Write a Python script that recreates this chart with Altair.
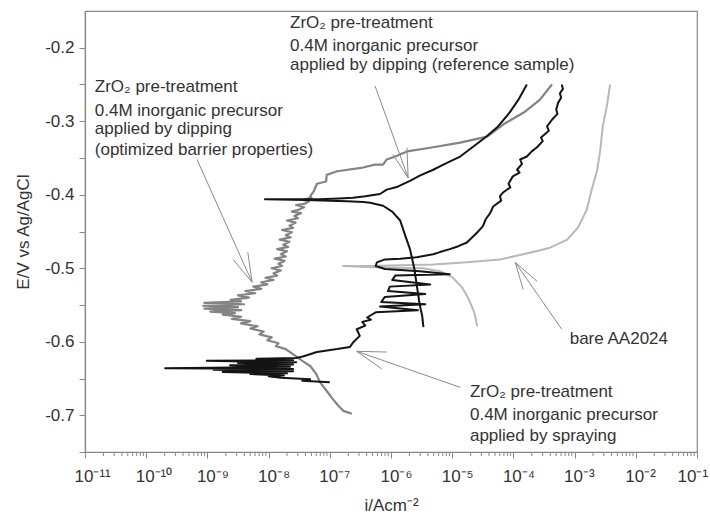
import altair as alt
import pandas as pd

# ---------------- data: (log10 of i in A/cm^2, E in V vs Ag/AgCl) ----------------
# ZrO2, dipping, optimized barrier properties (grey)
opt_points = [
    (-3.37, -0.250), (-3.57, -0.271), (-3.81, -0.287), (-4.14, -0.303), (-4.43, -0.321), (-4.87, -0.329),
    (-5.36, -0.336), (-5.74, -0.341), (-5.93, -0.348), (-6.07, -0.352), (-6.13, -0.359), (-6.26, -0.359),
    (-6.46, -0.363), (-6.88, -0.368), (-7.05, -0.373), (-7.06, -0.382), (-7.21, -0.385), (-7.26, -0.395),
    (-7.32, -0.402), (-7.30, -0.404), (-7.44, -0.407), (-7.34, -0.409), (-7.40, -0.412), (-7.55, -0.414),
    (-7.42, -0.417), (-7.50, -0.420), (-7.62, -0.423), (-7.47, -0.425), (-7.58, -0.429), (-7.52, -0.432),
    (-7.70, -0.435), (-7.56, -0.438), (-7.66, -0.442), (-7.60, -0.445), (-7.78, -0.448), (-7.62, -0.451),
    (-7.72, -0.455), (-7.64, -0.458), (-7.82, -0.461), (-7.66, -0.464), (-7.76, -0.468), (-7.68, -0.471),
    (-7.86, -0.474), (-7.70, -0.477), (-7.80, -0.481), (-7.72, -0.484), (-7.90, -0.487), (-7.74, -0.490),
    (-7.84, -0.494), (-7.78, -0.497), (-7.95, -0.500), (-7.80, -0.503), (-7.92, -0.507), (-7.86, -0.510),
    (-8.05, -0.513), (-7.92, -0.516), (-8.12, -0.519), (-8.02, -0.522), (-8.25, -0.525), (-8.12, -0.528),
    (-8.38, -0.531), (-8.22, -0.534), (-8.50, -0.537), (-8.32, -0.540), (-8.62, -0.543), (-8.45, -0.545),
    (-9.05, -0.547), (-8.40, -0.549), (-9.07, -0.551), (-8.50, -0.553), (-9.05, -0.555), (-8.45, -0.557),
    (-8.95, -0.559), (-8.55, -0.561), (-8.75, -0.563), (-8.45, -0.566), (-8.60, -0.569), (-8.30, -0.572),
    (-8.45, -0.575), (-8.18, -0.579), (-8.30, -0.582), (-8.08, -0.586), (-8.15, -0.590), (-7.95, -0.594),
    (-8.02, -0.598), (-7.84, -0.602), (-7.88, -0.606), (-7.72, -0.610), (-7.65, -0.614), (-7.55, -0.620),
    (-7.45, -0.626), (-7.32, -0.633), (-7.22, -0.644), (-7.16, -0.655), (-7.05, -0.667), (-6.95, -0.678),
    (-6.86, -0.687), (-6.78, -0.694), (-6.64, -0.698),
]

# ZrO2, dipping, reference sample (black, smooth)
ref_points = [
    (-3.78, -0.250), (-3.92, -0.271), (-4.06, -0.288), (-4.25, -0.307), (-4.46, -0.322), (-4.68, -0.336),
    (-4.87, -0.348), (-5.12, -0.358), (-5.31, -0.366), (-5.53, -0.374), (-5.69, -0.381), (-5.89, -0.389),
    (-6.07, -0.393), (-6.18, -0.399), (-6.42, -0.402), (-6.62, -0.404), (-6.85, -0.405), (-7.16, -0.406),
    (-7.50, -0.406), (-8.06, -0.406), (-7.40, -0.407), (-7.00, -0.408), (-6.72, -0.409), (-6.45, -0.410),
    (-6.34, -0.411), (-6.13, -0.415), (-5.98, -0.423), (-5.85, -0.435), (-5.77, -0.455), (-5.69, -0.474),
    (-5.62, -0.500), (-5.57, -0.528), (-5.53, -0.550), (-5.49, -0.565), (-5.47, -0.580),
]

# ZrO2, spraying (black, noisy)
spr_points = [
    (-3.21, -0.250), (-3.19, -0.256), (-3.24, -0.262), (-3.22, -0.268), (-3.27, -0.275), (-3.30, -0.284),
    (-3.28, -0.290), (-3.37, -0.298), (-3.45, -0.307), (-3.42, -0.313), (-3.55, -0.322), (-3.52, -0.327),
    (-3.61, -0.335), (-3.70, -0.341), (-3.78, -0.348), (-3.89, -0.352), (-3.86, -0.358), (-3.94, -0.366),
    (-3.90, -0.370), (-4.01, -0.375), (-4.08, -0.385), (-4.05, -0.390), (-4.17, -0.397), (-4.22, -0.402),
    (-4.20, -0.408), (-4.33, -0.416), (-4.38, -0.425), (-4.45, -0.433), (-4.50, -0.443), (-4.60, -0.452),
    (-4.76, -0.465), (-4.90, -0.470), (-5.04, -0.474), (-5.20, -0.478), (-5.31, -0.481), (-5.58, -0.485),
    (-5.85, -0.487), (-6.10, -0.488), (-6.23, -0.492), (-6.25, -0.497), (-6.10, -0.501), (-5.53, -0.504),
    (-5.04, -0.508), (-5.93, -0.510), (-5.98, -0.516), (-5.36, -0.522), (-6.02, -0.525), (-6.05, -0.531),
    (-5.44, -0.535), (-6.10, -0.539), (-6.16, -0.546), (-5.44, -0.549), (-6.18, -0.552), (-5.56, -0.557),
    (-6.25, -0.560), (-6.39, -0.567), (-6.33, -0.570), (-6.47, -0.573), (-6.42, -0.578), (-6.56, -0.583),
    (-6.51, -0.592), (-6.62, -0.601), (-6.67, -0.607), (-6.88, -0.610), (-7.21, -0.614), (-7.44, -0.620),
    (-7.55, -0.622), (-8.20, -0.623), (-7.60, -0.625), (-9.01, -0.626), (-7.55, -0.628), (-8.50, -0.629),
    (-7.60, -0.631), (-8.63, -0.632), (-7.65, -0.634), (-9.69, -0.636), (-7.60, -0.637), (-8.90, -0.638),
    (-7.60, -0.640), (-8.75, -0.641), (-7.70, -0.643), (-8.30, -0.644), (-7.75, -0.646), (-8.00, -0.647),
    (-7.80, -0.649), (-7.32, -0.651), (-7.45, -0.653), (-7.00, -0.655),
]

# bare AA2024 (light grey)
bare_points = [
    (-2.42, -0.250), (-2.47, -0.278), (-2.54, -0.307), (-2.58, -0.339), (-2.63, -0.366), (-2.72, -0.393),
    (-2.80, -0.420), (-2.94, -0.444), (-3.12, -0.461), (-3.40, -0.472), (-3.68, -0.478), (-4.22, -0.488),
    (-4.76, -0.492), (-5.31, -0.495), (-5.85, -0.496), (-6.34, -0.497), (-6.78, -0.497), (-6.18, -0.499),
    (-5.48, -0.500), (-5.20, -0.504), (-5.00, -0.512), (-4.84, -0.526), (-4.73, -0.542), (-4.64, -0.560),
    (-4.59, -0.579),
]

# annotation texts (left-aligned anchor in data units)
note_text = ["ZrO\u2082 pre-treatment", "0.4M inorganic precursor", "applied by dipping (reference sample)",
             "ZrO\u2082 pre-treatment", "0.4M inorganic precursor", "applied by dipping",
             "(optimized barrier properties)",
             "ZrO\u2082 pre-treatment", "0.4M inorganic precursor", "applied by spraying",
             "bare AA2024"]
note_logi = [-7.65, -7.65, -7.65, -10.84, -10.84, -10.84, -10.84, -4.71, -4.71, -4.71, -3.08]
note_E = [-0.166, -0.197, -0.224, -0.254, -0.286, -0.311, -0.339, -0.668, -0.699, -0.728, -0.596]

# arrows: tail -> tip, plus two barb ends
arr_tail_logi = [-6.26, -9.17, -4.87, -3.21]
arr_tail_E = [-0.252, -0.352, -0.662, -0.583]
arr_tip_logi = [-5.72, -8.27, -6.56, -3.97]
arr_tip_E = [-0.377, -0.519, -0.613, -0.492]
barb1_logi = [-5.97, -8.58, -6.07, -3.61]
barb1_E = [-0.345, -0.488, -0.614, -0.518]
barb2_logi = [-5.74, -8.34, -6.15, -3.84]
barb2_E = [-0.336, -0.478, -0.637, -0.529]

# axes
x_decades = [-11, -10, -9, -8, -7, -6, -5, -4, -3, -2, -1]
x_labels = ["10\u207b\u00b9\u00b9", "10\u207b\u00b9\u2070", "10\u207b\u2079", "10\u207b\u2078", "10\u207b\u2077",
            "10\u207b\u2076", "10\u207b\u2075", "10\u207b\u2074", "10\u207b\u00b3", "10\u207b\u00b2", "10\u207b\u00b9"]
x_minor_mult = [2, 3, 4, 5, 6, 7, 8, 9]
y_ticks = [-0.75, -0.7, -0.65, -0.6, -0.55, -0.5, -0.45, -0.4, -0.35, -0.3, -0.25, -0.2]

# ---------------- build ----------------
FONT = "Liberation Sans"
TXT = "#333333"
AX = "#888888"


def curve_df(points):
    return pd.DataFrame({"i": [10 ** p[0] for p in points], "E": [p[1] for p in points],
                         "idx": list(range(len(points)))})


xscale = alt.Scale(type="log", domain=[1e-11, 1e-1], nice=False)
yscale = alt.Scale(domain=[-0.75, -0.15], nice=False, zero=False)

label_expr = "[" + ",".join("'%s'" % s for s in x_labels) + "][round(log(datum.value)/LN10)+11]"
xaxis = alt.Axis(values=[10.0 ** k for k in x_decades], labelExpr=label_expr, tickSize=6,
                 labelAlign="left",
                 labelOffset={"condition": {"test": "datum.value > 0.05", "value": -20}, "value": -11},
                 labelPadding=10, title="i/Acm\u207b\u00b2", titlePadding=13, labelFlush=False,
                 labelOverlap=False, grid=False, labelFont=FONT, titleFont=FONT, labelFontSize=17,
                 titleFontSize=17, titleFontWeight="normal", labelColor=TXT, titleColor=TXT,
                 domainColor=AX, tickColor=AX, domainWidth=1.2)
yaxis = alt.Axis(values=y_ticks, tickSize=6, labelPadding=5, grid=False,
                 labelExpr="(round(datum.value*20)%2==0) ? '-' + format(-datum.value,'.1f') : ''",
                 title="E/V vs Ag/AgCl", titlePadding=12, labelFont=FONT, titleFont=FONT,
                 labelFontSize=17, titleFontSize=17, titleFontWeight="normal", labelColor=TXT,
                 titleColor=TXT, domainColor=AX, tickColor=AX, domainWidth=1.2)

X = alt.X("i:Q", scale=xscale, axis=xaxis)
Y = alt.Y("E:Q", scale=yscale, axis=yaxis)


def line(df, color, w):
    return alt.Chart(df).mark_line(color=color, strokeWidth=w, strokeJoin="round").encode(
        x=X, y=Y, order="idx:Q")


bare_l = line(curve_df(bare_points), "#b8b8b8", 2)
opt_l = line(curve_df(opt_points), "#848484", 2.2)
ref_l = line(curve_df(ref_points), "#141414", 2)
spr_l = line(curve_df(spr_points), "#141414", 2)

minor_df = pd.DataFrame({"i": [m * 10.0 ** k for k in x_decades[:-1] for m in x_minor_mult]})
minor = alt.Chart(minor_df).mark_rule(color=AX, strokeWidth=1).encode(
    x=X, y=alt.value(441), y2=alt.value(445))

arr_df = pd.DataFrame({
    "i": [10 ** v for v in arr_tail_logi + arr_tip_logi + arr_tip_logi],
    "E": arr_tail_E + arr_tip_E + arr_tip_E,
    "i2": [10 ** v for v in arr_tip_logi + barb1_logi + barb2_logi],
    "E2": arr_tip_E + barb1_E + barb2_E,
})
arrows = alt.Chart(arr_df).mark_rule(color="#8a8a8a", strokeWidth=1).encode(
    x=X, x2="i2:Q", y=Y, y2="E2:Q")

note_df = pd.DataFrame({"i": [10 ** v for v in note_logi], "E": note_E, "t": note_text})
notes = alt.Chart(note_df).mark_text(align="left", baseline="middle", fontSize=17, font=FONT,
                                     color=TXT).encode(x=X, y=Y, text="t:N")

chart = alt.layer(minor, bare_l, opt_l, ref_l, spr_l, arrows, notes).properties(
    width=612, height=441,
    padding={"left": 85, "top": 11, "right": 13, "bottom": 64},
    autosize=alt.AutoSizeParams(type="none"),
    background="white",
).configure_view(stroke=AX, strokeWidth=1.2)

chart.save("out.html", embed_options={"renderer": "svg", "actions": False})
